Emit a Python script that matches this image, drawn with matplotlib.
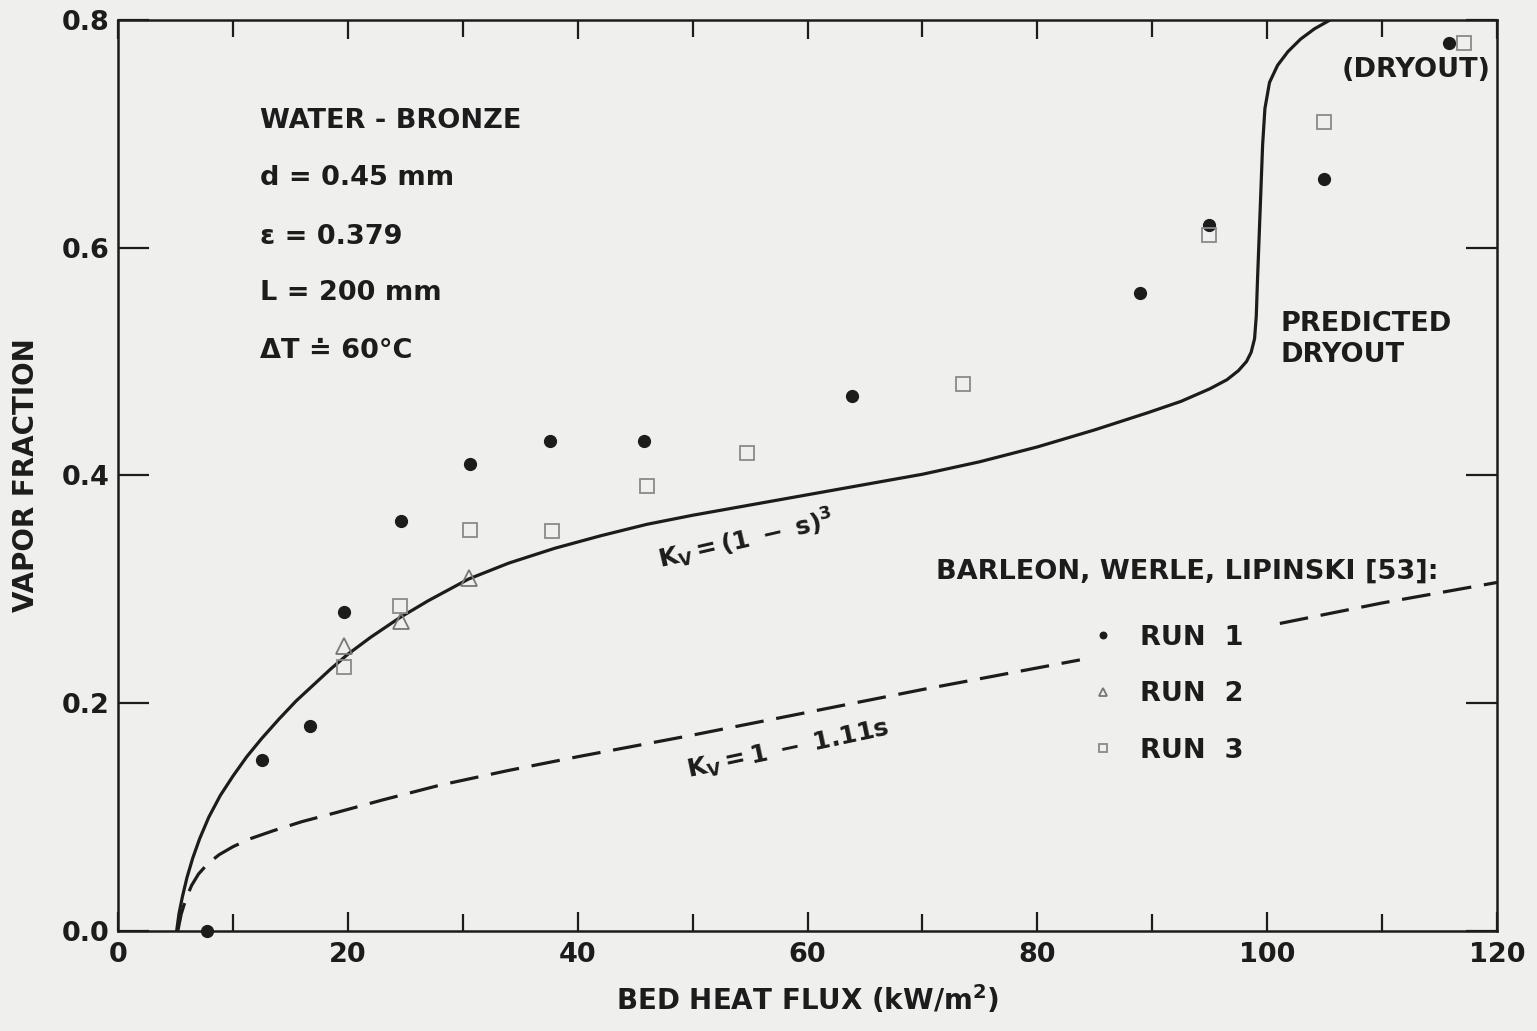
import matplotlib
matplotlib.use('Agg')
import matplotlib.pyplot as plt
import numpy as np

# --- measured points (Barleon, Werle, Lipinski) ---
run1_x = [7.7, 12.5, 16.7, 19.7, 24.6, 30.6, 37.6, 45.8, 63.9, 88.9, 94.9, 104.9, 115.8]
run1_y = [0.0, 0.15, 0.18, 0.28, 0.36, 0.41, 0.43, 0.43, 0.47, 0.56, 0.62, 0.66, 0.78]

run2_x = [19.7, 24.6, 30.5]
run2_y = [0.25, 0.272, 0.31]

run3_x = [19.7, 24.5, 30.6, 37.8, 46.0, 54.7, 73.5, 94.9, 104.9, 117.1]
run3_y = [0.232, 0.285, 0.352, 0.351, 0.391, 0.42, 0.48, 0.611, 0.71, 0.78]

# --- predicted curve, K_V = (1 - s)^3 ---
cube_x = [5.1, 5.3, 5.6, 6.0, 6.5, 7.1, 7.9, 8.9, 10.0, 11.2, 12.5, 14.0, 15.5, 17.0,
          18.5, 20.0, 22.0, 24.5, 27.0, 30.5, 34.0, 38.0, 42.0, 46.0, 50.0, 55.0, 60.0,
          65.0, 70.0, 75.0, 80.0, 85.0, 89.6, 92.5, 95.0, 96.5, 97.5, 98.2, 98.6, 98.9,
          99.05, 99.15, 99.3, 99.45, 99.6, 99.8, 100.2, 100.9, 101.8, 102.9, 104.1, 105.5]
cube_y = [0.0, 0.015, 0.03, 0.047, 0.064, 0.081, 0.100, 0.119, 0.136, 0.153, 0.169, 0.186,
          0.202, 0.216, 0.230, 0.243, 0.258, 0.275, 0.290, 0.309, 0.323, 0.336, 0.347, 0.357,
          0.365, 0.374, 0.383, 0.392, 0.401, 0.412, 0.425, 0.440, 0.455, 0.465, 0.476, 0.484,
          0.492, 0.500, 0.508, 0.520, 0.540, 0.570, 0.610, 0.650, 0.690, 0.722, 0.745, 0.760,
          0.772, 0.783, 0.792, 0.800]

# --- predicted curve, K_V = 1 - 1.11s (broken where the legend sits) ---
lin_x1 = [5.2, 5.5, 5.9, 6.4, 7.0, 7.8, 8.8, 10.0, 11.5, 13.5, 16.0, 19.0, 23.0, 28.0,
          34.0, 40.0, 50.0, 60.0, 70.0, 83.7]
lin_y1 = [0.0, 0.015, 0.028, 0.040, 0.050, 0.059, 0.067, 0.074, 0.081, 0.088, 0.096, 0.104,
          0.115, 0.128, 0.141, 0.153, 0.172, 0.192, 0.212, 0.238]
lin_x2 = [101.1, 110.0, 120.0]
lin_y2 = [0.270, 0.288, 0.306]

bg = '#efefed'
ink = '#1c1c1c'
fs = 19.5

fig = plt.figure(figsize=(15.37, 10.31), dpi=100)
fig.patch.set_facecolor(bg)
ax = fig.add_axes([0.0768, 0.097, 0.8972, 0.8838])
ax.set_facecolor(bg)

ax.plot(cube_x, cube_y, color=ink, lw=2.3, solid_capstyle='round', solid_joinstyle='round')
ax.plot(lin_x1, lin_y1, color=ink, lw=2.3, dashes=(9, 4))
ax.plot(lin_x2, lin_y2, color=ink, lw=2.3, dashes=(9, 4))

r1, = ax.plot(run1_x, run1_y, 'o', color=ink, ms=8.5, label='RUN  1', clip_on=False, zorder=5)
r2, = ax.plot(run2_x, run2_y, '^', mfc='none', mec='#777777', mew=1.3, ms=11, label='RUN  2', zorder=5)
r3, = ax.plot(run3_x, run3_y, 's', mfc='none', mec='#8a8a8a', mew=1.3, ms=10, label='RUN  3', zorder=5)

ax.set_xlim(0, 120)
ax.set_ylim(0, 0.8)
ax.set_xticks(np.arange(0, 121, 20))
ax.set_xticks(np.arange(0, 121, 10), minor=True)
ax.set_yticks([0.0, 0.2, 0.4, 0.6, 0.8])
ax.set_xticklabels(['0', '20', '40', '60', '80', '100', '120'])
ax.set_yticklabels(['0.0', '0.2', '0.4', '0.6', '0.8'])
ax.tick_params(which='both', direction='in', top=True, right=True, color=ink, width=1.6)
ax.tick_params(which='major', axis='x', length=14, labelsize=fs, pad=8)
ax.tick_params(which='minor', axis='x', length=12)
ax.tick_params(which='major', axis='y', length=22, labelsize=fs, pad=6)
for lab in ax.get_xticklabels() + ax.get_yticklabels():
    lab.set_fontweight('bold')
    lab.set_color(ink)
for sp in ax.spines.values():
    sp.set_linewidth(1.8)
    sp.set_color(ink)

ax.set_xlabel('BED HEAT FLUX (kW/m$^\\mathbf{2}$)', fontsize=20, fontweight='bold', color=ink, labelpad=11)
ax.set_ylabel('VAPOR FRACTION', fontsize=20, fontweight='bold', color=ink, labelpad=16)

tk = dict(transform=ax.transAxes, fontsize=fs, fontweight='bold', color=ink, va='center', ha='left')
ax.text(0.103, 0.889, 'WATER - BRONZE', **tk)
ax.text(0.103, 0.826, 'd = 0.45 mm', **tk)
ax.text(0.103, 0.762, '\u03b5 = 0.379', **tk)
ax.text(0.103, 0.700, 'L = 200 mm', **tk)
ax.text(0.103, 0.637, '\u0394T \u2250 60\u00b0C', **tk)

ax.text(0.843, 0.649, 'PREDICTED\nDRYOUT', transform=ax.transAxes, fontsize=fs, fontweight='bold',
        color=ink, va='center', ha='left', linespacing=1.25)
ax.text(0.9956, 0.945, '(DRYOUT)', transform=ax.transAxes, fontsize=fs, fontweight='bold',
        color=ink, va='center', ha='right')
ax.text(0.593, 0.394, 'BARLEON, WERLE, LIPINSKI [53]:', transform=ax.transAxes, fontsize=fs,
        fontweight='bold', color=ink, va='center', ha='left')

ax.text(54.6, 0.344, r'$\mathbf{K_V = (1\ -\ s)^3}$', fontsize=18, color=ink,
        rotation=13, ha='center', va='center')
ax.text(58.3, 0.159, r'$\mathbf{K_V = 1\ -\ 1.11s}$', fontsize=18, color=ink,
        rotation=12, ha='center', va='center')

leg = ax.legend(handles=[r1, r2, r3], loc='upper left', bbox_to_anchor=(0.6943, 0.351),
                frameon=False, fontsize=fs, markerscale=0.55, handlelength=1.0,
                handletextpad=0.87, labelspacing=1.13, borderpad=0)
for t in leg.get_texts():
    t.set_fontweight('bold')
    t.set_color(ink)

fig.savefig('out.png', dpi=100, facecolor=bg)
